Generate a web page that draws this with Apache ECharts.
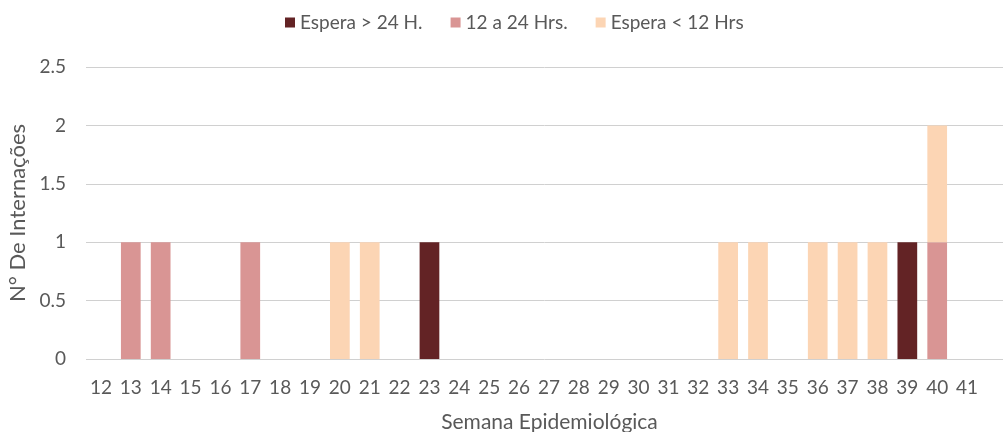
<!DOCTYPE html>
<html>
<head>
<meta charset="utf-8">
<script src="https://cdn.jsdelivr.net/npm/echarts@6/dist/echarts.min.js"></script>
<style>html,body{margin:0;padding:0;background:#fff}#c{width:1003px;height:432px}</style>
</head>
<body>
<div id="c"></div>
<script>
const categories = ['12','13','14','15','16','17','18','19','20','21','22','23','24','25','26','27','28','29','30','31','32','33','34','35','36','37','38','39','40','41'];
const espera24 = [0,0,0,0,0,0,0,0,0,0,0,1,0,0,0,0,0,0,0,0,0,0,0,0,0,0,0,1,0,0];
const h12a24   = [0,1,1,0,0,1,0,0,0,0,0,0,0,0,0,0,0,0,0,0,0,0,0,0,0,0,0,0,1,0];
const menos12  = [0,0,0,0,0,0,0,0,1,1,0,0,0,0,0,0,0,0,0,0,0,1,1,0,1,1,1,0,1,0];
const seriesNames = ['Espera > 24 H.', '12 a 24 Hrs.', 'Espera < 12 Hrs'];
const colors = ['#632325', '#D99594', '#FCD5B4'];

const font = 'Lato, "Open Sans", sans-serif';
const txt = '#595959';
const chart = echarts.init(document.getElementById('c'), null, {renderer: 'canvas'});
const nz = a => a.map(v => v === 0 ? null : v);
chart.setOption({
  animation: false,
  color: colors,
  legend: {
    top: 8, left: 280, itemWidth: 10, itemHeight: 10, itemGap: 28,
    icon: 'rect',
    textStyle: {color: txt, fontFamily: font, fontSize: 19},
    data: seriesNames
  },
  grid: [
    {left: 86, right: 21, top: 67, bottom: 73, containLabel: false, outerBoundsMode: 'none'},
    {left: 86, right: 0, top: 67, bottom: 73, containLabel: false, outerBoundsMode: 'none'}
  ],
  xAxis: [
    {type: 'category', gridIndex: 0, data: categories,
     axisLine: {show: false}, axisTick: {show: false},
     axisLabel: {color: txt, fontFamily: font, fontSize: 19, margin: 19, interval: 0}},
    {type: 'value', gridIndex: 1, min: 0, max: 1,
     axisLine: {show: false}, axisTick: {show: false}, axisLabel: {show: false}, splitLine: {show: false},
     name: 'Semana Epidemiológica', nameLocation: 'middle', nameGap: 53,
     nameTextStyle: {color: txt, fontFamily: font, fontSize: 21, padding: [0, 0, 0, 10]}}
  ],
  yAxis: [
    {type: 'value', gridIndex: 0, min: 0, max: 2.5, interval: 0.5,
     axisLine: {show: false}, axisTick: {show: false}, splitLine: {show: false},
     axisLabel: {color: txt, fontFamily: font, fontSize: 19, margin: 20},
     name: 'N° De Internações', nameLocation: 'middle', nameGap: 55,
     nameTextStyle: {color: txt, fontFamily: font, fontSize: 22}},
    {type: 'value', gridIndex: 1, min: 0, max: 2.5, interval: 0.5,
     axisLine: {show: false}, axisTick: {show: false}, axisLabel: {show: false},
     splitLine: {show: true, lineStyle: {color: '#D0D0D0', width: 1}}}
  ],
  series: [
    {name: seriesNames[0], type: 'bar', stack: 's', data: nz(espera24), barWidth: '66%', xAxisIndex: 0, yAxisIndex: 0},
    {name: seriesNames[1], type: 'bar', stack: 's', data: nz(h12a24), barWidth: '66%', xAxisIndex: 0, yAxisIndex: 0},
    {name: seriesNames[2], type: 'bar', stack: 's', data: nz(menos12), barWidth: '66%', xAxisIndex: 0, yAxisIndex: 0}
  ]
});
</script>
</body>
</html>
